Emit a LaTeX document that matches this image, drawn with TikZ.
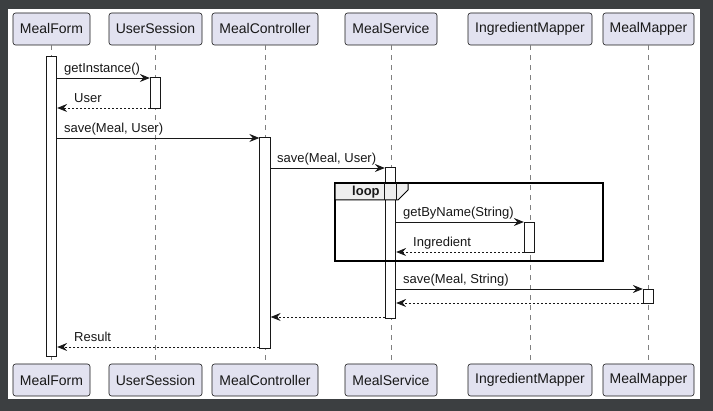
\documentclass[tikz,border=0pt]{standalone}
\usepackage{fontspec}
\setmainfont{Liberation Sans}
\usetikzlibrary{arrows.meta}
\definecolor{bgdark}{HTML}{3C3F41}
\definecolor{partfill}{HTML}{E2E2F0}
\definecolor{ink}{HTML}{181818}
\definecolor{tabfill}{HTML}{EEEEEE}
\begin{document}
\begin{tikzpicture}[x=1pt,y=-1pt,
 part/.style={draw=ink, line width=0.6pt, fill=partfill, rounded corners=2.5pt, minimum height=32pt, inner sep=0pt, font=\fontsize{14}{16}\selectfont, text=ink},
 life/.style={draw=ink!55, line width=0.7pt, dash pattern=on 5pt off 5pt},
 act/.style={draw=ink, line width=0.8pt, fill=white, minimum width=10.5pt, inner sep=0pt},
 msg/.style={draw=ink, line width=0.8pt, -{Stealth[length=10pt,width=8pt,inset=3.5pt]}},
 ret/.style={msg, dash pattern=on 2pt off 2pt},
 lbl/.style={font=\fontsize{13}{15}\selectfont, text=ink, inner sep=0pt, anchor=base west},
]
\useasboundingbox (0,0) rectangle (713,411);
\fill[bgdark] (0,0) rectangle (713,411);
\fill[white] (8,9) rectangle (700,399);

% participants
\node[part, minimum width=77pt]  (pF) at (51.5,29) {MealForm};
\node[part, minimum width=93pt]  (pU) at (155.5,29) {UserSession};
\node[part, minimum width=106pt] (pC) at (265,29) {MealController};
\node[part, minimum width=92pt]  (pS) at (391,29) {MealService};
\node[part, minimum width=124pt] (pI) at (530,29) {IngredientMapper};
\node[part, minimum width=91pt]  (pM) at (648.5,29) {MealMapper};
\node[part, minimum width=77pt]  (pFb) at (51.5,380) {MealForm};
\node[part, minimum width=93pt]  (pUb) at (155.5,380) {UserSession};
\node[part, minimum width=106pt] (pCb) at (265,380) {MealController};
\node[part, minimum width=92pt]  (pSb) at (391,380) {MealService};
\node[part, minimum width=124pt] (pIb) at (530,380) {IngredientMapper};
\node[part, minimum width=91pt]  (pMb) at (648.5,380) {MealMapper};

% lifelines
\draw[life] (pF.south) -- (pFb.north);
\draw[life] (pU.south) -- (pUb.north);
\draw[life] (pC.south) -- (pCb.north);
\draw[life] (pS.south) -- (pSb.north);
\draw[life] (pI.south) -- (pIb.north);
\draw[life] (pM.south) -- (pMb.north);

% activation bars
\node[act, minimum height=300pt] (aF) at (51.5,206) {};
\node[act, minimum height=31pt]  (aU) at (155.5,92.5) {};
\node[act, minimum height=211pt] (aC) at (265,242.5) {};
\node[act, minimum height=151pt] (aS) at (390.5,242.5) {};
\node[act, minimum height=30pt]  (aI) at (529.5,237) {};
\node[act, minimum height=14pt]  (aM) at (648.5,296) {};

% loop frame
\draw[black, line width=1.5pt] (335,183) rectangle (603,261);
\filldraw[fill=tabfill, draw=black, line width=1pt] (335,183) -- (408,183) -- (408,190) -- (398,200) -- (335,200) -- cycle;
\draw[black, line width=1.5pt] (335,183) -- (603,183);
\node[lbl, font=\fontsize{13}{15}\selectfont\bfseries] (tabl) at (352,196) {loop};
\draw[ink, line width=0.8pt] (aS.west |- 0,183) -- (aS.west |- 0,200) (aS.east |- 0,183) -- (aS.east |- 0,200);

% message rows
\coordinate (y1) at (0,78);
\coordinate (y2) at (0,108);
\coordinate (y3) at (0,138);
\coordinate (y4) at (0,168);
\coordinate (y5) at (0,222);
\coordinate (y6) at (0,252);
\coordinate (y7) at (0,289);
\coordinate (y8) at (0,303);
\coordinate (y9) at (0,317);
\coordinate (y10) at (0,347);

\draw[msg] (aF.east |- y1) -- (aU.west |- y1);
\node[lbl] (l1) at (64,73) {getInstance()};
\draw[ret] (aU.west |- y2) -- (aF.east |- y2);
\node[lbl] (l2) at (74,103) {User};
\draw[msg] (aF.east |- y3) -- (aC.west |- y3);
\node[lbl] (l3) at (64,133) {save(Meal, User)};
\draw[msg] (aC.east |- y4) -- (aS.west |- y4);
\node[lbl] (l4) at (277,163) {save(Meal, User)};
\draw[msg] (aS.east |- y5) -- (aI.west |- y5);
\node[lbl] (l5) at (403,217) {getByName(String)};
\draw[ret] (aI.west |- y6) -- (aS.east |- y6);
\node[lbl] (l6) at (413,247) {Ingredient};
\draw[msg] (aS.east |- y7) -- (aM.west |- y7);
\node[lbl] (l7) at (403,284) {save(Meal, String)};
\draw[ret] (aM.west |- y8) -- (aS.east |- y8);
\draw[ret] (aS.west |- y9) -- (aC.east |- y9);
\draw[ret] (aC.west |- y10) -- (aF.east |- y10);
\node[lbl] (l8) at (74,342) {Result};
\end{tikzpicture}
\end{document}
